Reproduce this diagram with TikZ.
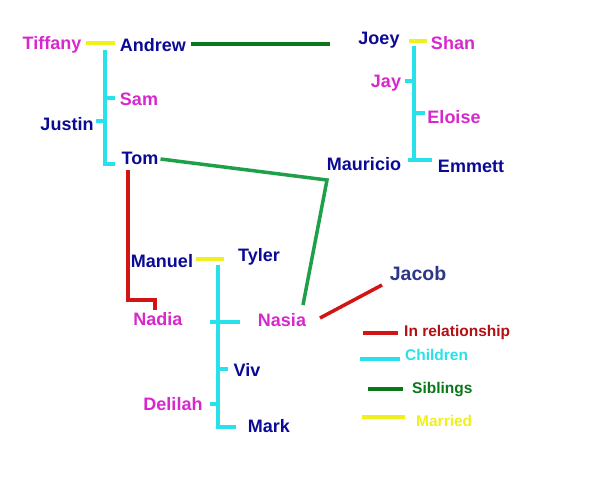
\documentclass[tikz,border=0pt]{standalone}
\usepackage{fontspec}
\setmainfont{Liberation Sans}
\definecolor{dblue}{RGB}{10,10,150}
\definecolor{mag}{RGB}{215,40,205}
\definecolor{cyanl}{RGB}{40,225,235}
\definecolor{yel}{RGB}{240,240,30}
\definecolor{dgreen}{RGB}{10,120,25}
\definecolor{mgreen}{RGB}{30,160,75}
\definecolor{redl}{RGB}{210,20,20}
\definecolor{dred}{RGB}{180,15,20}
\definecolor{jblue}{RGB}{45,55,135}
\begin{document}
\begin{tikzpicture}[x=1pt,y=-1pt,
  person/.style={font=\fontsize{18}{18}\selectfont\bfseries, inner sep=0pt},
  male/.style={person, text=dblue},
  female/.style={person, text=mag},
  legtext/.style={font=\fontsize{15.5}{15.5}\selectfont\bfseries, inner sep=0pt, anchor=west},
  kid/.style={draw=cyanl, line width=3.5pt},
  wed/.style={draw=yel, line width=3.5pt},
  sib/.style={draw=dgreen, line width=3.5pt},
  sib2/.style={draw=mgreen, line width=3.5pt},
  rel/.style={draw=redl, line width=3.5pt}]
\useasboundingbox (0,0) rectangle (598,480);
\fill[white] (0,0) rectangle (598,480);
% family 1
\node[female] (tiffany) at (52,45) {Tiffany};
\node[male] (andrew) at (153,45) {Andrew};
\node[female] (sam) at (139,99) {Sam};
\node[male] (justin) at (67,124) {Justin};
\node[male] (tom) at (140,158) {Tom};
\coordinate (m1a) at (86,43); \coordinate (m1b) at (115,43);
\coordinate (k1top) at (105,50); \coordinate (k1bot) at (105,164);
\draw[wed] (m1a) -- (m1b);
\draw[kid] (k1top) -- (k1bot) -- (115,164);
\draw[kid] (105,98) -- (115,98);
\draw[kid] (96,121) -- (105,121);
% family 2
\node[male] (joey) at (379,40) {Joey};
\node[female] (shan) at (453,43) {Shan};
\node[female] (jay) at (386,83) {Jay};
\node[female] (eloise) at (454,117) {Eloise};
\node[male] (mauricio) at (364,164) {Mauricio};
\node[male] (emmett) at (471,166) {Emmett};
\coordinate (m2a) at (409,41); \coordinate (m2b) at (427,41);
\draw[wed] (m2a) -- (m2b);
\draw[kid] (414,46) -- (414,160);
\draw[kid] (408,160) -- (432,160);
\draw[kid] (405,81) -- (414,81);
\draw[kid] (414,113) -- (425,113);
% family 3
\node[male] (manuel) at (162,261) {Manuel};
\node[male] (tyler) at (259,257) {Tyler};
\node[female] (nadia) at (158,319) {Nadia};
\node[female] (nasia) at (282,320) {Nasia};
\node[male] (viv) at (247,370) {Viv};
\node[female] (delilah) at (173,404) {Delilah};
\node[male] (mark) at (269,426) {Mark};
\node[font=\fontsize{19.5}{19.5}\selectfont\bfseries, inner sep=0pt, text=jblue] (jacob) at (418,274) {Jacob};
\draw[wed] (196,259) -- (224,259);
\draw[kid] (218,265) -- (218,427) -- (236,427);
\draw[kid] (210,322) -- (240,322);
\draw[kid] (218,369) -- (228,369);
\draw[kid] (210,404) -- (218,404);
% relations
\coordinate (sibend) at (330,44);
\draw[sib] (andrew.east) ++(5,-1) coordinate (a1) (a1) -- (sibend);
\coordinate (bend) at (327,180);
\draw[sib2] (tom.east) ++(2,1) coordinate (t1) (t1) -- (bend) -- (303,305);
\coordinate (r1) at (128,300); \coordinate (r2) at (155,300);
\draw[rel] (128,170) -- (r1) -- (r2) -- (155,310);
\draw[rel] (320,318) -- (382,285);
% legend
\draw[rel] (363,333) -- (398,333);
\node[legtext, text=dred] (l1) at (404,332) {In relationship};
\draw[kid] (360,359) -- (400,359);
\node[legtext, text=cyanl] (l2) at (405,355) {Children};
\draw[sib] (368,389) -- (403,389);
\node[legtext, text=dgreen] (l3) at (412,390) {Siblings};
\draw[wed] (362,417) -- (405,417);
\node[legtext, text=yel] (l4) at (416,421) {Married};
\end{tikzpicture}
\end{document}
